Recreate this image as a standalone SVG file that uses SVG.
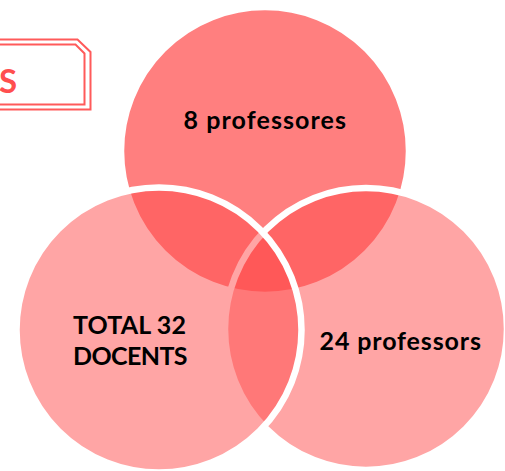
<svg xmlns="http://www.w3.org/2000/svg" width="505" height="471" viewBox="0 0 505 471">
  <style>
    .circle { stroke: #FFFFFF; stroke-width: 6.5; }
    .c-top { fill: #FF0000; fill-opacity: 0.5; }
    .c-side { fill: #FF4B4B; fill-opacity: 0.5; }
    .label { font-family: Lato, "Liberation Sans", sans-serif; font-weight: bold; font-size: 25px; fill: #000000; }
    .frame { fill: none; stroke: #FF5A5A; stroke-width: 2; }
    .tag { font-family: Lato, "Liberation Sans", sans-serif; font-weight: bold; font-size: 33px; fill: #FF4F4F; }
  </style>
  <rect x="0" y="0" width="505" height="471" fill="#FFFFFF"/>

  <g id="title-box">
    <path class="frame" d="M -5 39.5 L 77.5 39.5 L 90.5 52 L 90.5 109.5 L -5 109.5"/>
    <path class="frame" d="M -5 44.5 L 75.5 44.5 L 84.5 53.5 L 84.5 104.5 L -5 104.5"/>
    <text class="tag" x="17" y="93" text-anchor="end">S</text>
  </g>

  <g id="node-top">
    <circle class="circle c-top" cx="265" cy="151" r="144"/>
  </g>
  <g id="node-right">
    <circle class="circle c-side" cx="366" cy="329" r="141"/>
  </g>
  <g id="node-left">
    <circle class="circle c-side" cx="159" cy="330" r="142.5"/>
  </g>

  <g id="connectors"></g>

  <g id="labels">
    <text class="label" x="183.5" y="129" textLength="162.5">8 professores</text>
    <text class="label" x="319.5" y="350" textLength="161.5">24 professors</text>
    <text class="label" x="73" y="334" textLength="113">TOTAL 32</text>
    <text class="label" x="73" y="365" textLength="114.5">DOCENTS</text>
  </g>
</svg>
